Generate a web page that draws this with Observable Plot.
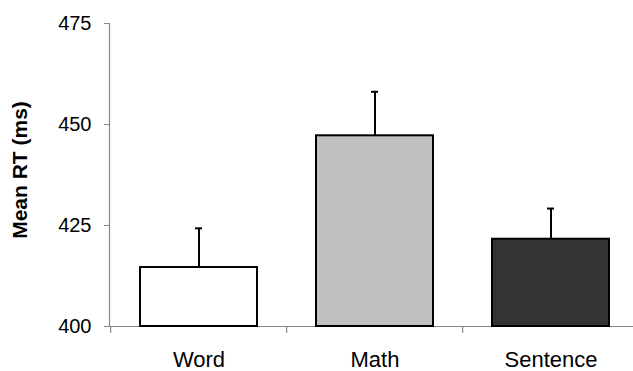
<!DOCTYPE html>
<html>
<head>
<meta charset="utf-8">
<script src="https://cdn.jsdelivr.net/npm/d3@7"></script>
<script src="https://cdn.jsdelivr.net/npm/@observablehq/plot@0.6"></script>
<style>
  html, body { margin: 0; padding: 0; background: #fff; }
  svg { font-family: "Liberation Sans", Arial, sans-serif; }
</style>
</head>
<body>
<div id="chart"></div>
<script>
// Mean reaction time per condition, with the upper error bar
const categories = ["Word", "Math", "Sentence"];
const meanRT = [414.6, 447.2, 421.6];
const errorRT = [9.7, 10.9, 7.6];
const fills = ["#ffffff", "#c0c0c0", "#333333"];
const yTicks = [400, 425, 450, 475];

const data = categories.map((c, i) => ({
  condition: c,
  mean: meanRT[i],
  upper: meanRT[i] + errorRT[i],
  fill: fills[i]
}));

const width = 633;
const marginLeft = 109;
const marginRight = -6;
const step = (width - marginLeft - marginRight) / categories.length;

const chart = Plot.plot({
  width,
  height: 371,
  marginLeft,
  marginRight,
  marginTop: 23,
  marginBottom: 45,
  style: { fontFamily: "'Liberation Sans', Arial, sans-serif", fontSize: "20px", background: "#fff" },
  x: { type: "band", domain: categories, paddingInner: 0.336, paddingOuter: 0.168 },
  y: { domain: [400, 475] },
  marks: [
    // axis lines
    Plot.ruleY([400], { stroke: "#888", strokeWidth: 1.2 }),
    Plot.frame({ anchor: "left", stroke: "#888", strokeWidth: 1.2 }),
    // small separators between conditions below the baseline
    Plot.ruleX(categories, {
      x: d => d, dx: -step / 2, y1: 400, y2: 400, insetBottom: -7,
      stroke: "#888", strokeWidth: 1.2
    }),
    // y ticks and their labels
    Plot.axisY({ ticks: yTicks, tickSize: 5, stroke: "#888", text: null, label: null }),
    Plot.text(yTicks, {
      y: d => d, frameAnchor: "left", textAnchor: "end", dx: -18,
      fontSize: 20, fill: "#000", text: d => String(d)
    }),
    Plot.axisX({ tickSize: 0, tickPadding: 25, label: null, fontSize: 22, fill: "#000" }),
    // error bars (upper only)
    Plot.ruleX(data, { x: "condition", y1: "mean", y2: "upper", stroke: "#000", strokeWidth: 2 }),
    Plot.tickY(data, { x: "condition", y: "upper", stroke: "#000", strokeWidth: 2, insetLeft: 55, insetRight: 55 }),
    // bars
    Plot.barY(data, { x: "condition", y1: 400, y2: "mean", fill: "fill", stroke: "#000", strokeWidth: 2 }),
    Plot.text(["Mean RT (ms)"], {
      frameAnchor: "left", textAnchor: "middle", rotate: -90, dx: -89, dy: -5,
      fontSize: 21, fontWeight: "bold", fill: "#000"
    })
  ]
});

document.getElementById("chart").append(chart);
</script>
</body>
</html>
